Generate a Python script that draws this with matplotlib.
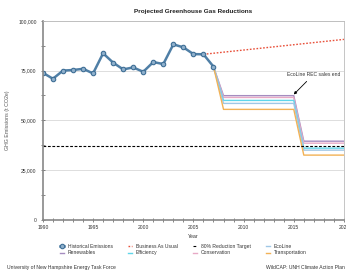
import matplotlib
matplotlib.use("Agg")
import matplotlib.pyplot as plt
from matplotlib.ticker import MultipleLocator, FuncFormatter

plt.rcParams["font.family"] = ["Liberation Sans", "DejaVu Sans"]

# historical emissions, t CO2e
hist_years = list(range(1990, 2008))
hist_values = [73900, 70900, 75000, 75300, 75900, 73600, 83700, 79000, 75600,
               76600, 74400, 79300, 78300, 88200, 86700, 83300, 83200, 77000]

bau_years = [2006, 2020]
bau_values = [83200, 90700]

target_years = [1990, 2020]
target_values = [37000, 37000]

# scenario step lines: 2007 start, plateau 2008-2015, plateau 2016-2020
step_years = [2007, 2008, 2015, 2016, 2020]
scenarios = {
    "Renewables": [77000, 62400, 62400, 39500, 39500],
    "Conservation": [77000, 61500, 61500, 38500, 38500],
    "Efficiency": [77000, 60000, 60000, 36000, 36000],
    "EcoLine": [77000, 58500, 58500, 35000, 35000],
    "Transportation": [77000, 55500, 55500, 32500, 32500],
}
scenario_colors = {
    "Renewables": "#a58cc0",
    "Conservation": "#e7a9c6",
    "Efficiency": "#5fd6ea",
    "EcoLine": "#9fc7e6",
    "Transportation": "#f2b256",
}

fig = plt.figure(figsize=(3.46, 2.75), dpi=100)
ax = fig.add_axes([0.124, 0.201, 0.870, 0.723])

ax.grid(True, axis="y", color="#d8d8d8", linewidth=0.6)
ax.set_axisbelow(True)

lines = {}
for name, vals in scenarios.items():
    lines[name], = ax.plot(step_years, vals, color=scenario_colors[name], linewidth=1.0)

bau, = ax.plot(bau_years, bau_values, color="#e8503a", linestyle=(0, (1.2, 1.2)),
               linewidth=1.0)
target, = ax.plot(target_years, target_values, color="black", linestyle=(0, (2.5, 1.5)),
                  linewidth=0.8)
hist, = ax.plot(hist_years, hist_values, color="#4f7fa6", linewidth=1.8, marker="o",
                markersize=3.2, markerfacecolor="#8fb0cc", markeredgecolor="#3f6f96",
                markeredgewidth=0.8)

ax.annotate("EcoLine REC sales end", xy=(2015, 63000), xytext=(2017.0, 73200),
            fontsize=3.6, ha="center", va="center", color="#333333",
            arrowprops=dict(arrowstyle="-|>", color="black", lw=0.6,
                            mutation_scale=4, shrinkA=2, shrinkB=0))

ax.set_xlim(1990, 2020)
ax.set_ylim(0, 100000)
ax.xaxis.set_major_locator(MultipleLocator(5))
ax.xaxis.set_minor_locator(MultipleLocator(1))
ax.yaxis.set_major_locator(MultipleLocator(25000))
ax.yaxis.set_minor_locator(MultipleLocator(12500))
ax.yaxis.set_major_formatter(FuncFormatter(lambda v, p: f"{int(v):,}"))
ax.tick_params(axis="both", which="both", direction="inout", color="#555555",
               labelsize=3.6, labelcolor="#333333", width=0.5)
ax.tick_params(axis="both", which="major", length=3)
ax.tick_params(axis="both", which="minor", length=2.5)
ax.tick_params(axis="x", pad=2)
ax.tick_params(axis="y", pad=3)
for side in ["top", "right"]:
    ax.spines[side].set_color("#bbbbbb")
    ax.spines[side].set_linewidth(0.6)
for side in ["left", "bottom"]:
    ax.spines[side].set_color("#888888")
    ax.spines[side].set_linewidth(1.2)

ax.set_title("Projected Greenhouse Gas Reductions", fontsize=4.6, fontweight="bold",
             color="#222222", pad=6)
ax.set_xlabel("Year", fontsize=3.8, color="#333333", labelpad=3)
ax.set_ylabel("GHG Emissions (t CO2e)", fontsize=3.8, color="#555555", labelpad=6)

handles = [hist, bau, target, lines["EcoLine"],
           lines["Renewables"], lines["Efficiency"], lines["Conservation"],
           lines["Transportation"]]
labels = ["Historical Emissions", "Business As Usual", "80% Reduction Target", "EcoLine",
          "Renewables", "Efficiency", "Conservation", "Transportation"]
order = [0, 4, 1, 5, 2, 6, 3, 7]
fig.legend([handles[i] for i in order], [labels[i] for i in order], ncol=4,
           loc="center", bbox_to_anchor=(0.53, 0.092), fontsize=3.6, frameon=False,
           numpoints=1, handlelength=0.8, columnspacing=3.0, labelspacing=0.3,
           handletextpad=0.8, labelcolor="#333333")

fig.text(0.02, 0.028, "University of New Hampshire Energy Task Force", fontsize=3.6,
         color="#333333", ha="left", va="center")
fig.text(0.77, 0.028, "WildCAP: UNH Climate Action Plan", fontsize=3.6,
         color="#333333", ha="left", va="center")

fig.savefig("out.png", dpi=100)
